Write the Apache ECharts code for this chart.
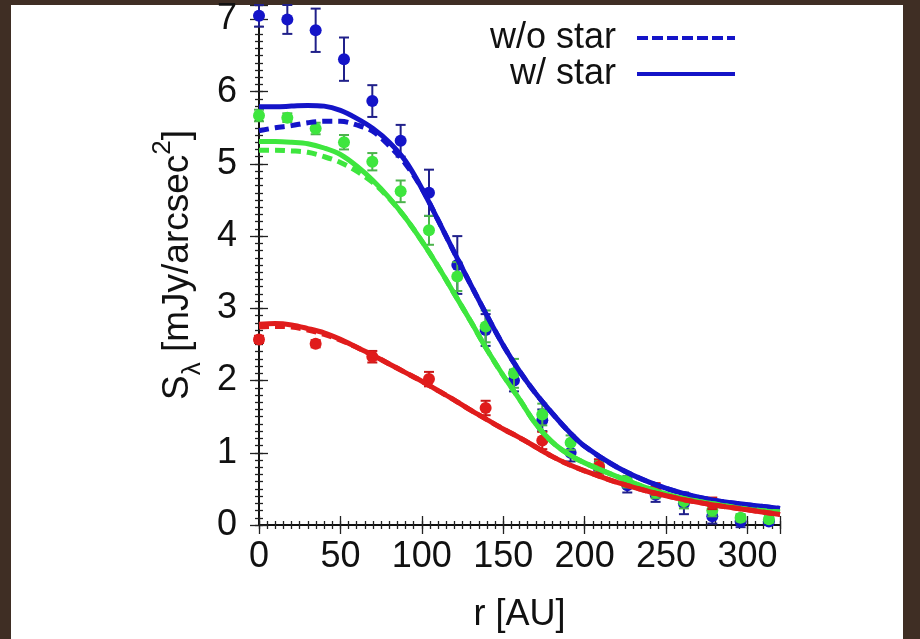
<!DOCTYPE html>
<html>
<head>
<meta charset="utf-8">
<script src="https://cdn.jsdelivr.net/npm/echarts@6/dist/echarts.min.js"></script>
<style>
html,body{margin:0;padding:0;background:#3f2e24;}
#wrap{position:relative;width:920px;height:639px;background:#3f2e24;overflow:hidden;}
#paper{position:absolute;left:11px;top:5px;width:892px;height:634px;background:#ffffff;}
#chart{position:absolute;left:0;top:0;width:920px;height:639px;}
</style>
</head>
<body>
<div id="wrap"><div id="paper"></div><div id="chart"></div></div>
<script>
// ---- data ----
const obsR = [0, 17.4, 34.8, 52.2, 69.6, 87, 104.4, 121.8, 139.2, 156.6, 174, 191.4, 208.8, 226.2, 243.6, 261, 278.4, 295.8, 313.2];
const blueObs = [7.05, 7.0, 6.85, 6.45, 5.87, 5.32, 4.6, 3.6, 2.7, 2.0, 1.45, 1.0, 0.78, 0.55, 0.42, 0.3, 0.12, 0.05, 0.05];
const blueErr = [0.15, 0.2, 0.3, 0.3, 0.22, 0.22, 0.32, 0.4, 0.22, 0.15, 0.15, 0.12, 0.1, 0.1, 0.1, 0.15, 0.1, 0.08, 0.05];
const greenObs = [5.67, 5.64, 5.49, 5.3, 5.03, 4.62, 4.08, 3.44, 2.75, 2.1, 1.53, 1.14, 0.82, 0.6, 0.45, 0.33, 0.2, 0.1, 0.08];
const greenErr = [0.08, 0.06, 0.08, 0.1, 0.12, 0.15, 0.2, 0.2, 0.22, 0.2, 0.15, 0.1, 0.08, 0.08, 0.08, 0.1, 0.08, 0.05, 0.05];
const redR = [0, 34.8, 69.6, 104.4, 139.2, 174, 208.8, 243.6, 278.4];
const redObs = [2.57, 2.51, 2.33, 2.02, 1.62, 1.17, 0.81, 0.5, 0.3];
const redErr = [0.05, 0.05, 0.08, 0.1, 0.1, 0.12, 0.1, 0.08, 0.08];

const modelR = [0, 10, 20, 30, 40, 50, 60, 70, 80, 90, 100, 110, 120, 130, 140, 150, 160, 170, 180, 190, 200, 220, 240, 260, 280, 300, 320];
const blueStar   = [5.79, 5.79, 5.80, 5.81, 5.80, 5.74, 5.63, 5.49, 5.30, 5.04, 4.66, 4.22, 3.77, 3.33, 2.90, 2.49, 2.13, 1.82, 1.55, 1.30, 1.09, 0.80, 0.59, 0.44, 0.34, 0.28, 0.23];
const blueNoStar = [5.46, 5.50, 5.53, 5.57, 5.59, 5.59, 5.54, 5.45, 5.25, 5.00, 4.66, 4.22, 3.77, 3.33, 2.90, 2.49, 2.13, 1.82, 1.55, 1.30, 1.09, 0.80, 0.59, 0.44, 0.34, 0.28, 0.23];
const greenStar   = [5.31, 5.31, 5.30, 5.28, 5.22, 5.13, 4.97, 4.77, 4.53, 4.25, 3.93, 3.58, 3.20, 2.82, 2.43, 2.07, 1.74, 1.40, 1.15, 0.98, 0.86, 0.67, 0.50, 0.37, 0.29, 0.22, 0.18];
const greenNoStar = [5.19, 5.19, 5.18, 5.16, 5.10, 5.02, 4.90, 4.74, 4.52, 4.25, 3.93, 3.58, 3.20, 2.82, 2.43, 2.07, 1.74, 1.40, 1.15, 0.98, 0.86, 0.67, 0.50, 0.37, 0.29, 0.22, 0.18];
const redStar   = [2.78, 2.79, 2.77, 2.72, 2.66, 2.57, 2.46, 2.35, 2.23, 2.11, 1.99, 1.86, 1.73, 1.59, 1.46, 1.33, 1.21, 1.08, 0.95, 0.84, 0.75, 0.59, 0.46, 0.355, 0.275, 0.21, 0.145];
const redNoStar = [2.74, 2.75, 2.74, 2.70, 2.64, 2.56, 2.46, 2.35, 2.23, 2.11, 1.99, 1.86, 1.73, 1.59, 1.46, 1.33, 1.21, 1.08, 0.95, 0.84, 0.75, 0.59, 0.46, 0.355, 0.275, 0.21, 0.145];

const xTicks = [0, 50, 100, 150, 200, 250, 300];
const yTicks = [0, 1, 2, 3, 4, 5, 6, 7];
const legendNames = ['w/o star', 'w/ star'];

// ---- styles ----
const BLUE = '#1414c8', GREEN = '#3ee63e', RED = '#e01c1c';
const BLUE_E = '#20208a', GREEN_E = '#4cb44c', RED_E = '#c81818';
const FONT = 'Liberation Sans, Arial, sans-serif';
const XMAX = 320, YMAX = 7.2;

const zip = (xs, ys) => xs.map((x, i) => [x, ys[i]]);
const errData = (xs, ys, es) => xs.map((x, i) => [x, ys[i] - es[i], ys[i] + es[i]]);

function errSeries(data, color, z) {
  return {
    type: 'custom', z: z, silent: true, data: data,
    renderItem: function (params, api) {
      const x = api.value(0), lo = api.value(1), hi = api.value(2);
      const p1 = api.coord([x, lo]), p2 = api.coord([x, hi]);
      const w = 5;
      const st = { stroke: color, lineWidth: 2 };
      return { type: 'group', children: [
        { type: 'line', shape: { x1: p1[0], y1: p1[1], x2: p2[0], y2: p2[1] }, style: st },
        { type: 'line', shape: { x1: p1[0] - w, y1: p1[1], x2: p1[0] + w, y2: p1[1] }, style: st },
        { type: 'line', shape: { x1: p2[0] - w, y1: p2[1], x2: p2[0] + w, y2: p2[1] }, style: st }
      ]};
    }
  };
}
function ptSeries(data, color, z) {
  return { type: 'scatter', z: z, silent: true, symbol: 'circle', symbolSize: 12, data: data,
    itemStyle: { color: color, opacity: 1 } };
}
function lineSeries(name, data, color, dashed, z) {
  return { type: 'line', name: name, z: z, silent: true, data: data, smooth: 0.35, symbol: 'none',
    clip: true,
    lineStyle: { color: color, width: 5, type: dashed ? [10, 6] : 'solid' } };
}
const tickFmt = (ticks) => (v) => (ticks.indexOf(Math.round(v * 1000) / 1000) >= 0 ? String(Math.round(v)) : '');

const axisLineBlack = { show: true, lineStyle: { color: '#111', width: 2 } };
function xAx(pos, interval, len, withLabels, showLine) {
  return {
    type: 'value', position: pos, min: 0, max: XMAX, interval: interval,
    axisLine: showLine ? axisLineBlack : { show: false },
    axisTick: { show: true, inside: true, length: len, lineStyle: { color: '#222', width: 1.3 } },
    axisLabel: withLabels ? { show: true, fontSize: 36, color: '#111', fontFamily: FONT, margin: 14, formatter: tickFmt(xTicks) } : { show: false },
    splitLine: { show: false },
    name: withLabels ? 'r [AU]' : '', nameLocation: 'middle', nameGap: 72,
    nameTextStyle: { fontSize: 36, color: '#111', fontFamily: FONT }
  };
}
function yAx(pos, interval, len, withLabels, showLine) {
  return {
    type: 'value', position: pos, min: 0, max: YMAX, interval: interval,
    axisLine: showLine ? axisLineBlack : { show: false },
    axisTick: { show: true, inside: true, length: len, lineStyle: { color: '#222', width: 1.3 } },
    axisLabel: withLabels ? { show: true, fontSize: 36, color: '#111', fontFamily: FONT, margin: 22, formatter: tickFmt(yTicks) } : { show: false },
    splitLine: { show: false },
    name: withLabels ? '{a|S}{sub|λ}{a| [mJy/arcsec}{sup|2}{a|]}' : '',
    nameLocation: 'middle', nameRotate: 90, nameGap: 54,
    nameTextStyle: {
      color: '#111', fontFamily: FONT,
      rich: {
        a: { fontSize: 37, fontFamily: FONT, color: '#111', lineHeight: 46, verticalAlign: 'bottom' },
        sub: { fontSize: 26, fontFamily: FONT, color: '#111', lineHeight: 46, verticalAlign: 'bottom', padding: [0, 0, -10, 0] },
        sup: { fontSize: 26, fontFamily: FONT, color: '#111', lineHeight: 46, verticalAlign: 'top' }
      }
    }
  };
}

const chart = echarts.init(document.getElementById('chart'), null, { renderer: 'canvas' });
chart.setOption({
  backgroundColor: 'transparent',
  animation: false,
  grid: { left: 259, right: 140, top: 5, bottom: 114, containLabel: false },
  xAxis: [
    xAx('bottom', 50, 9, true, true),
    xAx('bottom', 5, 4, false, false),
    xAx('top', 50, 9, false, true),
    xAx('top', 5, 4, false, false)
  ],
  yAxis: [
    yAx('left', 1, 9, true, true),
    yAx('left', 0.1, 4, false, false),
    yAx('right', 1, 9, false, true),
    yAx('right', 0.1, 4, false, false)
  ],
  legend: {
    data: legendNames, orient: 'vertical', align: 'right',
    right: 178, top: 15, itemWidth: 98, itemHeight: 14, itemGap: 0,
    selectedMode: false,
    itemStyle: { opacity: 0 },
    lineStyle: { color: BLUE, width: 4 },
    textStyle: { fontSize: 36, color: '#111', fontFamily: FONT, lineHeight: 34, padding: [0, 16, 0, 0] }
  },
  series: [
    errSeries(errData(obsR, blueObs, blueErr), BLUE_E, 2),
    ptSeries(zip(obsR, blueObs), BLUE, 3),
    errSeries(errData(obsR, greenObs, greenErr), GREEN_E, 4),
    ptSeries(zip(obsR, greenObs), GREEN, 5),
    errSeries(errData(redR, redObs, redErr), RED_E, 6),
    ptSeries(zip(redR, redObs), RED, 7),
    lineSeries('blueNoStar', zip(modelR, blueNoStar), BLUE, true, 10),
    lineSeries('blueStar', zip(modelR, blueStar), BLUE, false, 11),
    lineSeries('greenNoStar', zip(modelR, greenNoStar), GREEN, true, 12),
    lineSeries('greenStar', zip(modelR, greenStar), GREEN, false, 13),
    lineSeries('redNoStar', zip(modelR, redNoStar), RED, true, 14),
    lineSeries('redStar', zip(modelR, redStar), RED, false, 15),
    // legend entries
    { type: 'line', name: legendNames[0], data: [], symbol: 'none', lineStyle: { color: BLUE, width: 4, type: [11, 4] }, itemStyle: { color: BLUE } },
    { type: 'line', name: legendNames[1], data: [], symbol: 'none', lineStyle: { color: BLUE, width: 4 }, itemStyle: { color: BLUE } }
  ]
});
</script>
</body>
</html>
